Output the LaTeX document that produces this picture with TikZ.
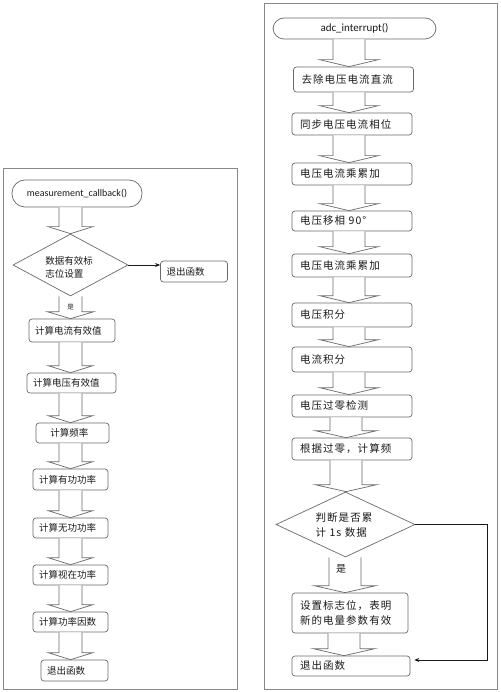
\documentclass[tikz,border=0pt]{standalone}
\usepackage{fontspec}
\setmainfont{Carlito}
\newfontfamily\cjk{Noto Sans CJK SC}
\newfontfamily\cjkw[LetterSpace=10]{Noto Sans CJK SC}
\usetikzlibrary{calc,shapes.geometric,arrows.meta}
\definecolor{edge}{HTML}{6A6A6A}
\definecolor{ink}{HTML}{1A1A1A}
\tikzset{
  frame/.style={draw=edge!80,line width=0.9pt},
  box/.style={draw=edge,line width=0.7pt,rounded corners=3pt,fill=white,inner xsep=6pt,inner ysep=0pt,align=left,text=ink},
  term/.style={draw=edge,line width=0.7pt,rounded corners=11pt,fill=white,inner sep=0pt,text=ink},
  dia/.style={draw=edge,line width=0.7pt,diamond,inner sep=0pt,fill=white},
  barrow/.style={draw=edge,line width=0.7pt,fill=white,line join=miter},
  conn/.style={draw=ink,line width=0.7pt,-{Stealth[length=5pt,width=4pt]}},
  lt/.style={font=\cjk\fontsize{9.5}{13}\selectfont},
  rt/.style={font=\cjkw\fontsize{10.5}{15}\selectfont},
}
\newcommand\blockarr[5]{%
  \draw[barrow] let \p1=(#1.south), \p2=(#2.north) in
    ({(#3-#4)*1pt},\y1) -- ({(#3-#4)*1pt},\y2+7pt) -- ({(#3-#5)*1pt},\y2+7pt)
    -- ({#3*1pt},\y2) -- ({(#3+#5)*1pt},\y2+7pt) -- ({(#3+#4)*1pt},\y2+7pt)
    -- ({(#3+#4)*1pt},\y1);}
\begin{document}
\begin{tikzpicture}[x=1pt,y=-1pt]
\useasboundingbox (0,0) rectangle (500,692);
\fill[white] (0,0) rectangle (500,692);
% frames
\draw[frame] (3,168) rectangle (237,689);
\draw[frame] (264,3) rectangle (497,689);

% ---------- left flow ----------
\node[term,minimum width=130,minimum height=27,rounded corners=13pt,font=\fontsize{10}{12}\selectfont] (L0) at (77,193.5) {measurement\_callback()\hspace{6pt}};
\node[dia,minimum width=115,minimum height=62] (L1) at (70.5,265) {};
\node[lt,align=left,text=ink] at (69,267) {数据有效标\\志位设置};
\node[box,lt,text width=55,minimum height=21] (Lx) at (194,271.5) {退出函数};
\node[box,lt,text width=74,minimum height=23] (L2) at (72,330.5) {计算电流有效值};
\node[box,lt,text width=77,minimum height=20] (L3) at (71.5,383) {计算电压有效值};
\node[box,lt,text width=57,minimum height=20,inner xsep=8pt] (L4) at (72.5,433) {\ \ 计算频率};
\node[box,lt,text width=63,minimum height=21] (L5) at (70.5,479.5) {计算有功功率};
\node[box,lt,text width=63,minimum height=20] (L6) at (70.5,528) {计算无功功率};
\node[box,lt,text width=63,minimum height=20] (L7) at (70.5,575) {计算视在功率};
\node[box,lt,text width=63,minimum height=20] (L8) at (70.5,622) {计算功率因数};
\node[box,lt,text width=55,minimum height=21] (L9) at (74.5,670.5) {退出函数};

\blockarr{L0}{L1}{70.5}{11.5}{22.5}
\blockarr{L1}{L2}{70.5}{11.5}{23.5}
\node[font=\cjk\fontsize{6.5}{8}\selectfont,text=ink] at (70.5,307) {是};
\blockarr{L2}{L3}{70.5}{11.5}{22.5}
\blockarr{L3}{L4}{70.5}{11.5}{22.5}
\blockarr{L4}{L5}{70.5}{11.5}{22.5}
\blockarr{L5}{L6}{70.5}{11.5}{22.5}
\blockarr{L6}{L7}{70.5}{11.5}{22.5}
\blockarr{L7}{L8}{70.5}{11.5}{22.5}
\blockarr{L8}{L9}{70.5}{11.5}{22.5}
\draw[conn] (L1.east) -- (L1.east -| Lx.west);

% ---------- right flow ----------
\node[term,minimum width=163,minimum height=21,font=\fontsize{11}{13}\selectfont] (R0) at (354.5,28.5) {adc\_interrupt()\hspace{16pt}};
\node[box,rt,text width=104,minimum height=25,inner xsep=8pt] (R1) at (353.5,79.5) {去除电压电流直流};
\node[box,rt,text width=104,minimum height=22,inner xsep=8pt] (R2) at (352,124) {同步电压电流相位};
\node[box,rt,text width=104,minimum height=22,inner xsep=8pt] (R3) at (352,174) {电压电流乘累加};
\node[box,rt,text width=104,minimum height=20,inner xsep=8pt] (R4) at (352,221) {电压移相 90°};
\node[box,rt,text width=104,minimum height=23,inner xsep=8pt] (R5) at (352,265.5) {电压电流乘累加};
\node[box,rt,text width=104,minimum height=24,inner xsep=8pt] (R6) at (352,315) {电压积分};
\node[box,rt,text width=104,minimum height=25,inner xsep=8pt] (R7) at (352,359.5) {电流积分};
\node[box,rt,text width=104,minimum height=22,inner xsep=8pt] (R8) at (352,406) {电压过零检测};
\node[box,rt,text width=104,minimum height=22,inner xsep=8pt] (R9) at (352,449) {根据过零，计算频};
\node[dia,minimum width=139,minimum height=65] (R10) at (345.5,524.5) {};
\node[rt,align=left,text=ink] at (344,525) {判断是否累\\计 1s 数据};
\node[box,rt,text width=100,minimum height=40,inner xsep=8pt] (R11) at (350,613) {设置标志位，表明\\新的电量参数有效};
\node[box,rt,text width=102,minimum height=20,inner xsep=8pt] (R12) at (351,666) {退出函数};

\blockarr{R0}{R1}{349}{16}{29.5}
\blockarr{R1}{R2}{349}{16}{29.5}
\blockarr{R2}{R3}{349}{16}{29.5}
\blockarr{R3}{R4}{349}{16}{29.5}
\blockarr{R4}{R5}{349}{16}{29.5}
\blockarr{R5}{R6}{349}{16}{29.5}
\blockarr{R6}{R7}{349}{16}{29.5}
\blockarr{R7}{R8}{349}{16}{29.5}
\blockarr{R8}{R9}{346}{16}{31}
\blockarr{R9}{R10}{346}{16}{31}
\blockarr{R10}{R11}{345}{16}{31}
\node[font=\cjk\fontsize{10}{12}\selectfont,text=ink] at (341,569) {是};
\blockarr{R11}{R12}{344}{16}{31}

\coordinate (cr) at (487,660);
\draw[conn,shorten >=4pt] (R10.east) -- (R10.east -| cr) -- (cr) -- (cr -| R12.east);
\end{tikzpicture}
\end{document}
